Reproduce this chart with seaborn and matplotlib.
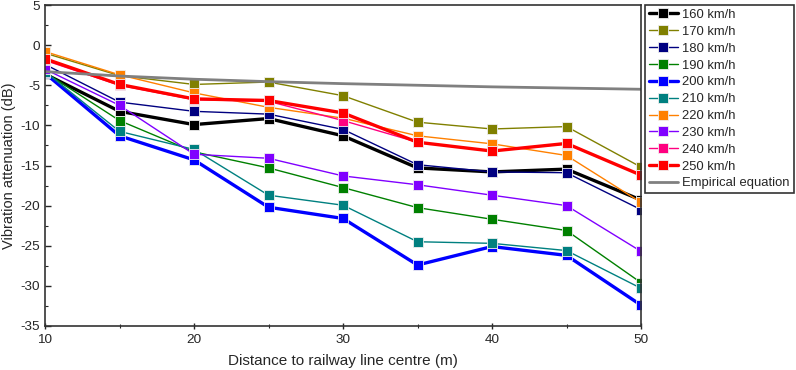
import numpy as np
import pandas as pd
import matplotlib
matplotlib.use("Agg")
import matplotlib.pyplot as plt
import seaborn as sns

distance = [10, 15, 20, 25, 30, 35, 40, 45, 50]
speeds = ["160 km/h", "170 km/h", "180 km/h", "190 km/h", "200 km/h",
          "210 km/h", "220 km/h", "230 km/h", "240 km/h", "250 km/h"]
v160 = [-3.6, -8.25, -9.9, -9.15, -11.3, -15.3, -15.8, -15.45, -19.3]
v170 = [-1.0, -3.8, -4.9, -4.6, -6.3, -9.6, -10.45, -10.15, -15.2]
v180 = [-2.4, -7.1, -8.25, -8.6, -10.5, -14.9, -15.8, -15.9, -20.5]
v190 = [-3.4, -9.4, -13.3, -15.3, -17.75, -20.25, -21.7, -23.1, -29.6]
v200 = [-3.5, -11.3, -14.3, -20.2, -21.6, -27.4, -25.1, -26.2, -32.4]
v210 = [-3.3, -10.75, -13.0, -18.7, -19.95, -24.5, -24.7, -25.6, -30.3]
v220 = [-0.8, -3.7, -5.95, -7.75, -9.1, -11.3, -12.3, -13.75, -19.6]
v230 = [-3.0, -7.5, -13.6, -14.1, -16.3, -17.4, -18.7, -20.0, -25.7]
v240 = [-1.9, -5.0, -6.8, -7.0, -9.4, -12.1, -13.2, -12.3, -16.2]
v250 = [-1.7, -4.9, -6.7, -6.9, -8.45, -12.1, -13.2, -12.25, -16.2]
empirical = [-3.3, -3.85, -4.25, -4.55, -4.8, -5.0, -5.2, -5.35, -5.5]

series = [v160, v170, v180, v190, v200, v210, v220, v230, v240, v250]
colors = ["#000000", "#808000", "#000080", "#008000", "#0000FF",
          "#008080", "#FF8000", "#8000FF", "#FF0080", "#FF0000"]
widths = [2.4, 1.0, 1.0, 1.0, 2.4, 1.0, 1.0, 1.0, 1.0, 2.4]

sns.set_theme(style="ticks")
plt.rcParams["font.family"] = ["Liberation Sans", "DejaVu Sans"]

fig = plt.figure(figsize=(7.96, 3.70), dpi=100)
ax = fig.add_axes([45 / 796, 1 - 326 / 370, 596 / 796, 321 / 370])

for name, vals, col, lw in zip(speeds, series, colors, widths):
    df = pd.DataFrame({"d": distance, "v": vals})
    sns.lineplot(data=df, x="d", y="v", ax=ax, color=col, linewidth=lw,
                 marker="s", markersize=7, markeredgecolor="#f0f0f0",
                 markeredgewidth=0.6, label=name)

dfe = pd.DataFrame({"d": distance, "v": empirical})
sns.lineplot(data=dfe, x="d", y="v", ax=ax, color="#808080", linewidth=2.0,
             label="Empirical equation")

ax.set_xlim(10, 50)
ax.set_ylim(-35, 5)
ax.set_xticks([10, 20, 30, 40, 50])
ax.set_xticks([15, 25, 35, 45], minor=True)
ax.set_yticks(np.arange(-35, 6, 5))
ax.set_yticks(np.arange(-32.5, 5, 5), minor=True)
ax.set_yticklabels([str(v) for v in range(-35, 6, 5)])
ax.tick_params(axis="y", which="major", direction="in", length=4, width=1, labelsize=9.7, pad=3.5)
ax.tick_params(axis="y", which="minor", direction="in", length=2, width=0.8)
ax.tick_params(axis="x", which="major", direction="inout", length=5, width=1, labelsize=9.7, pad=3)
ax.tick_params(axis="x", which="minor", direction="inout", length=3, width=0.8)
for s in ax.spines.values():
    s.set_color("#333333")
    s.set_linewidth(1.2)

ax.set_xlabel("Distance to railway line centre (m)", fontsize=11, labelpad=6)
ax.set_ylabel("Vibration attenuation (dB)", fontsize=10.5, labelpad=3)

leg = ax.legend(loc="upper left", bbox_to_anchor=(1.007, 1.0), borderaxespad=0,
                fontsize=9.4, frameon=True, fancybox=False, handlelength=2.2,
                handletextpad=0.35, labelspacing=0.36, borderpad=0.3)
leg.get_frame().set_edgecolor("#000000")
leg.get_frame().set_linewidth(1.2)

fig.savefig("out.png", dpi=100)
